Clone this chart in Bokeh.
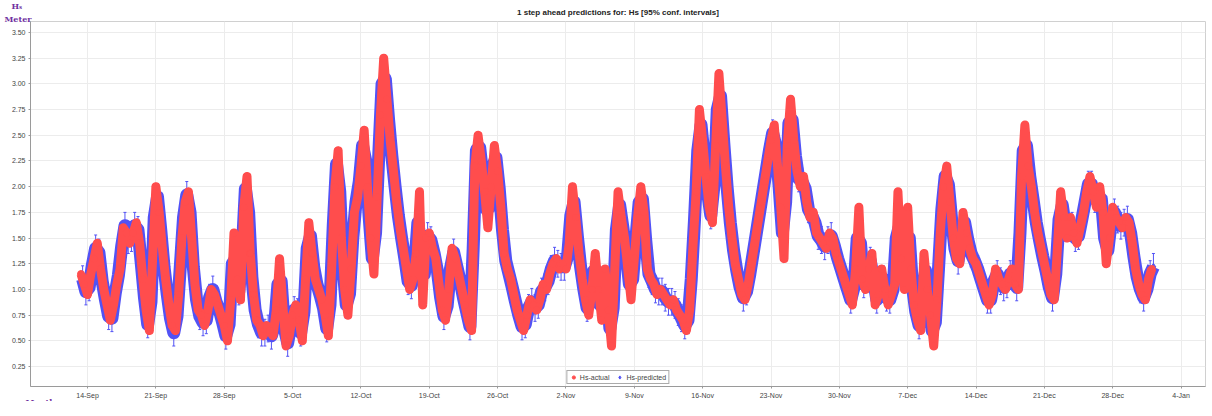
from bokeh.plotting import figure
from bokeh.models import (ColumnDataSource, Whisker, TeeHead, FixedTicker, Legend,
                          LegendItem, Range1d, Title)
from bokeh.embed import file_html
from bokeh.resources import INLINE

# time axis: days relative to 14-Sep 00:00 ; samples every 8 hours starting 13-Sep 08:00
START_DAY = -2.0 / 3.0
STEP_DAYS = 1.0 / 3.0
PRED_OFFSET_DAYS = 1.0 / 6.0

# Hs-actual (m)
hs_actual = [
    1.15, 1.05,
    0.95, 1.15, 1.30,  1.45, 1.20, 1.00,  0.85, 0.70, 0.85,  1.05, 1.20, 1.60,
    1.55, 1.45, 1.55,  1.65, 1.45, 1.10,  0.80, 0.60, 1.30,  2.00, 1.75, 1.40,
    1.10, 0.85, 0.65,  0.60, 0.95, 1.50,  1.85, 1.95, 1.50,  1.05, 0.80, 0.75,
    0.65, 0.80, 1.00,  0.95, 0.85, 0.75,  0.65, 0.50, 0.90,  1.55, 1.10, 0.90,
    1.80, 2.10, 1.35,  0.95, 0.70, 0.65,  0.55, 0.65, 0.60,  0.55, 0.80, 1.30,
    0.85, 0.45, 0.55,  0.75, 0.85, 0.70,  0.50, 1.10, 1.65,  1.35, 1.10, 1.00,
    0.90, 0.75, 0.55,  1.20, 2.00, 2.35,  1.50, 1.00, 0.75,  1.20, 1.75, 1.90,
    2.20, 2.55, 2.00,  1.50, 1.15, 1.90,  2.70, 3.25, 2.85,  2.45, 2.15, 1.85,
    1.60, 1.40, 1.20,  1.00, 1.10, 1.35,  1.95, 0.85, 1.50,  1.55, 1.40, 1.30,
    1.05, 0.80, 0.70,  1.00, 1.40, 1.30,  1.15, 1.00, 0.85,  0.70, 0.60, 2.20,
    2.50, 2.25, 1.95,  1.60, 2.00, 2.40,  2.15, 1.80, 1.35,  1.20, 1.10, 0.95,
    0.80, 0.70, 0.60,  0.75, 0.90, 0.85,  0.80, 0.90, 1.05,  1.00, 1.15, 1.25,
    1.30, 1.20, 1.25,  1.20, 1.45, 2.00,  1.70, 1.35, 1.10,  0.90, 0.75, 1.00,
    1.35, 1.00, 0.70,  1.20, 0.80, 0.45,  1.20, 1.95, 1.70,  1.50, 1.20, 0.90,
    1.30, 1.70, 2.00,  1.75, 1.20, 1.10,  1.05, 0.95, 1.00,  0.95, 0.90, 0.85,
    0.90, 0.80, 0.75,  0.70, 0.60, 0.80,  1.40, 1.95, 2.75,  2.45, 2.10, 1.80,
    1.65, 2.40, 3.10,  2.65, 2.20, 1.80,  1.50, 1.25, 1.10,  0.95, 0.90, 1.05,
    1.25, 1.45, 1.65,  1.85, 2.05, 2.25,  2.45, 2.60, 2.20,  1.80, 1.30, 2.40,
    2.85, 2.45, 2.15,  2.00, 2.10, 1.85,  1.70, 1.75, 1.55,  1.50, 1.45, 1.40,
    1.55, 1.50, 1.35,  1.25, 1.15, 1.05,  0.95, 0.85, 1.20,  1.80, 1.10, 1.00,
    1.20, 1.35, 0.85,  0.95, 1.20, 1.00,  0.85, 0.95, 1.05,  1.95, 1.30, 1.00,
    1.80, 1.20, 0.85,  0.70, 0.60, 1.35,  1.00, 0.75, 0.45,  0.90, 1.55, 2.00,
    2.20, 1.85, 1.50,  1.30, 1.25, 1.75,  1.55, 1.40, 1.30,  1.25, 1.15, 1.05,
    0.95, 0.85, 0.95,  1.20, 1.10, 1.05,  1.00, 1.10, 1.20,  1.05, 1.00, 2.10,
    2.60, 2.20, 2.00,  1.75, 1.55, 1.40,  1.25, 1.10, 0.95,  0.90, 1.40, 1.95,
    1.70, 1.50, 1.70,  1.55, 1.45, 1.60,  1.75, 1.95, 2.10,  1.95, 1.80, 2.00,
    1.75, 1.25, 1.50,  1.80, 1.70, 1.65,  1.60, 1.70, 1.65,  1.45, 1.20, 1.05,
    0.95, 0.90, 1.10,  1.20,
]

# Hs-predicted (m), one step ahead
hs_predicted = [
    1.10, 0.98,
    1.02, 1.24, 1.40,  1.36, 1.08, 0.90,  0.74, 0.72, 0.96,  1.14, 1.42, 1.62,
    1.48, 1.50, 1.62,  1.58, 1.26, 0.92,  0.66, 0.88, 1.70,  1.90, 1.58, 1.22,
    0.95, 0.72, 0.58,  0.74, 1.22, 1.70,  1.92, 1.75, 1.22,  0.90, 0.74, 0.68,
    0.70, 0.92, 1.00,  0.88, 0.80, 0.68,  0.55, 0.66, 1.25,  1.30, 0.98, 1.35,
    1.98, 1.75, 1.12,  0.80, 0.66, 0.58,  0.58, 0.62, 0.55,  0.66, 1.05, 1.08,
    0.62, 0.48, 0.66,  0.80, 0.78, 0.58,  0.78, 1.40, 1.52,  1.22, 1.05, 0.94,
    0.82, 0.62, 0.85,  1.62, 2.22, 1.95,  1.22, 0.85, 0.96,  1.50, 1.85, 2.05,
    2.40, 2.25, 1.72,  1.30, 1.55, 2.32,  3.00, 3.05, 2.65,  2.30, 2.00, 1.72,
    1.50, 1.30, 1.08,  1.04, 1.22, 1.65,  1.40, 1.15, 1.52,  1.48, 1.35, 1.18,
    0.92, 0.74, 0.84,  1.20, 1.36, 1.22,  1.08, 0.92, 0.78,  0.64, 1.40, 2.36,
    2.38, 2.10, 1.78,  1.80, 2.20, 2.28,  1.98, 1.58, 1.28,  1.15, 1.02, 0.88,
    0.75, 0.64, 0.66,  0.82, 0.88, 0.82,  0.85, 0.98, 1.02,  1.08, 1.20, 1.28,
    1.25, 1.22, 1.22,  1.32, 1.72, 1.85,  1.52, 1.22, 1.00,  0.82, 0.88, 1.18,
    1.18, 0.85, 0.95,  1.00, 0.62, 0.82,  1.58, 1.82, 1.60,  1.35, 1.05, 1.10,
    1.50, 1.85, 1.88,  1.48, 1.15, 1.08,  1.00, 0.98, 0.98,  0.92, 0.88, 0.88,
    0.85, 0.78, 0.72,  0.65, 0.70, 1.10,  1.68, 2.35, 2.60,  2.28, 1.95, 1.72,
    2.02, 2.75, 2.88,  2.42, 2.00, 1.65,  1.38, 1.18, 1.02,  0.92, 0.98, 1.15,
    1.35, 1.55, 1.75,  1.95, 2.15, 2.35,  2.52, 2.40, 2.00,  1.55, 1.85, 2.62,
    2.65, 2.30, 2.08,  2.05, 1.98, 1.78,  1.72, 1.65, 1.52,  1.48, 1.42, 1.48,
    1.52, 1.42, 1.30,  1.20, 1.10, 1.00,  0.90, 1.02, 1.50,  1.45, 1.05, 1.10,
    1.28, 1.10, 0.90,  1.08, 1.10, 0.92,  0.90, 1.00, 1.50,  1.62, 1.15, 1.40,
    1.50, 1.02, 0.78,  0.65, 0.98, 1.18,  0.88, 0.60, 0.68,  1.22, 1.78, 2.10,
    2.02, 1.68, 1.40,  1.28, 1.50, 1.65,  1.48, 1.35, 1.28,  1.20, 1.10, 1.00,
    0.90, 0.90, 1.08,  1.15, 1.08, 1.02,  1.05, 1.15, 1.12,  1.02, 1.55, 2.35,
    2.40, 2.10, 1.88,  1.65, 1.48, 1.32,  1.18, 1.02, 0.92,  1.15, 1.68, 1.82,
    1.60, 1.60, 1.62,  1.50, 1.52, 1.68,  1.85, 2.02, 2.02,  1.88, 1.90, 1.88,
    1.50, 1.38, 1.65,  1.75, 1.68, 1.62,  1.65, 1.68, 1.55,  1.32, 1.12, 1.00,
    0.92, 1.00, 1.15,  1.22,
]

CI_HALF = 0.13  # half width of the 95% confidence interval (m)

tick_days = [0, 7, 14, 21, 28, 35, 42, 49, 56, 63, 70, 77, 84, 91, 98, 105, 112]
tick_labels = ["14-Sep", "21-Sep", "28-Sep", "5-Oct", "12-Oct", "19-Oct", "26-Oct",
               "2-Nov", "9-Nov", "16-Nov", "23-Nov", "30-Nov", "7-Dec", "14-Dec",
               "21-Dec", "28-Dec", "4-Jan"]
y_ticks = [0.25, 0.50, 0.75, 1.00, 1.25, 1.50, 1.75, 2.00, 2.25, 2.50, 2.75, 3.00, 3.25, 3.50]

TITLE = "1 step ahead predictions for: Hs [95% conf. intervals]"

t_act = [START_DAY + i * STEP_DAYS for i in range(len(hs_actual))]
t_pred = [START_DAY + PRED_OFFSET_DAYS + i * STEP_DAYS for i in range(len(hs_predicted))]

src_a = ColumnDataSource(dict(t=t_act, hs=hs_actual))
src_p = ColumnDataSource(dict(t=t_pred, hs=hs_predicted,
                              lo=[v - CI_HALF for v in hs_predicted],
                              hi=[v + CI_HALF for v in hs_predicted]))

RED = "#ff4d4d"
BLUE = "#5252f5"
FONT = "Liberation Sans"
SERIF = "DejaVu Serif"
PURPLE = "#7030a0"

p = figure(frame_width=1175, frame_height=365, output_backend="svg", toolbar_location=None,
           x_range=Range1d(-5.84, 114.5), y_range=Range1d(0.056, 3.607), title=None,
           min_border_left=30, min_border_right=7, min_border_top=0, min_border_bottom=0)
p.background_fill_color = "white"
p.border_fill_color = "white"
p.outline_line_color = "#d0d0d0"

# header rows (from the frame outwards): "Meter", main title, "Hs"
p.add_layout(Title(text="Meter", align="left", offset=-26, standoff=-4,
                   text_font=SERIF, text_font_size="8px", text_font_style="bold",
                   text_color=PURPLE), "above")
p.add_layout(Title(text=TITLE, align="center", standoff=-6,
                   text_font=FONT, text_font_size="8px", text_font_style="bold",
                   text_color="#222222"), "above")
p.add_layout(Title(text="Hₛ", align="left", offset=-19, standoff=-4,
                   text_font=SERIF, text_font_size="8px", text_font_style="bold",
                   text_color=PURPLE), "above")

whisk = Whisker(source=src_p, base="t", lower="lo", upper="hi", dimension="height",
                line_color=BLUE, line_width=1,
                upper_head=TeeHead(size=3, line_color=BLUE),
                lower_head=TeeHead(size=3, line_color=BLUE))
p.add_layout(whisk)
p.line("t", "hs", source=src_p, line_color=BLUE, line_width=13, line_join="round")
r_p = p.scatter("t", "hs", source=src_p, marker="diamond", size=7,
                fill_color=BLUE, line_color=BLUE)
p.line("t", "hs", source=src_a, line_color=RED, line_width=9, line_join="round")
r_a = p.scatter("t", "hs", source=src_a, marker="circle", size=7,
                fill_color=RED, line_color=RED)

p.xaxis.ticker = FixedTicker(ticks=tick_days)
p.xaxis.major_label_overrides = {d: l for d, l in zip(tick_days, tick_labels)}
p.yaxis.ticker = FixedTicker(ticks=y_ticks)
p.yaxis.major_label_overrides = {v: f"{v:.2f}" for v in y_ticks}

for ax in (p.xaxis[0], p.yaxis[0]):
    ax.axis_line_color = "#9a9a9a"
    ax.major_tick_line_color = "#9a9a9a"
    ax.major_tick_out = 2
    ax.major_tick_in = 0
    ax.minor_tick_line_color = None
    ax.major_label_text_font = FONT
    ax.major_label_text_font_size = "7px"
    ax.major_label_text_color = "#444444"
    ax.major_label_standoff = 3

p.xgrid.grid_line_color = "#ececec"
p.ygrid.grid_line_color = "#ececec"

# "Month" at the left end, just under the x axis (zero-height row)
p.add_layout(Title(text="Month", align="left", offset=-5, standoff=-12,
                   vertical_align="middle",
                   text_font=SERIF, text_font_size="8px", text_font_style="bold",
                   text_color=PURPLE), "below")

legend = Legend(items=[LegendItem(label="Hs-actual", renderers=[r_a]),
                       LegendItem(label="Hs-predicted", renderers=[r_p])],
                orientation="horizontal", location="bottom_center",
                label_text_font=FONT, label_text_font_size="7px",
                glyph_height=8, glyph_width=8, padding=2, spacing=6, margin=2,
                label_standoff=3, label_height=8,
                border_line_color="#555555", background_fill_alpha=1.0)
p.add_layout(legend)

open("out.html", "w").write(file_html(p, INLINE))
